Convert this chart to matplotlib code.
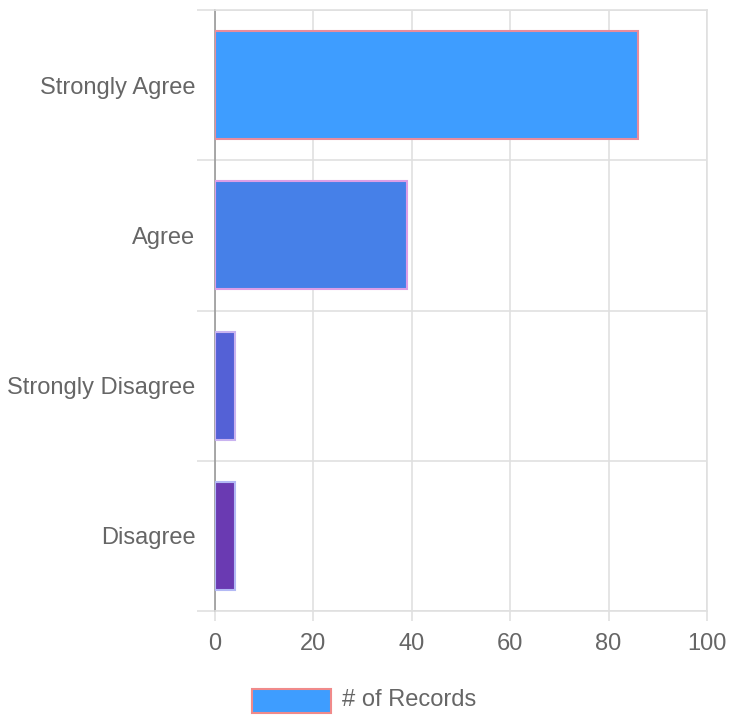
import matplotlib.pyplot as plt
import matplotlib

matplotlib.rcParams['font.family'] = ['Liberation Sans', 'DejaVu Sans']

# data
categories = ['Strongly Agree', 'Agree', 'Strongly Disagree', 'Disagree']
records = [86, 39, 4, 4]
bar_colors = ['#3e9dff', '#4680e8', '#5461d6', '#6a3ab2']
edge_colors = ['#ea8c9c', '#dc9ee6', '#c9b3f0', '#b3b9f5']
x_ticks = [0, 20, 40, 60, 80, 100]

grid_c = '#e0e0e0'
text_c = '#666666'

fig = plt.figure(figsize=(7.29, 7.15), dpi=100)
ax = fig.add_axes([215 / 729, (715 - 611) / 715, (707 - 215) / 729, (611 - 10) / 715])

ypos = list(range(len(categories)))
for i in ypos:
    ax.barh(i, records[i], height=0.72, color=bar_colors[i],
            edgecolor=edge_colors[i], linewidth=1.5, zorder=3)

ax.set_xlim(0, 100)
ax.set_ylim(len(categories) - 0.5, -0.5)
ax.set_xticks(x_ticks)
ax.set_yticks(ypos)
ax.set_yticklabels(categories)
ax.set_yticks([i - 0.5 for i in range(len(categories) + 1)], minor=True)

ax.tick_params(axis='y', which='major', length=0, pad=14, labelsize=17, labelcolor=text_c)
ax.tick_params(axis='y', which='minor', length=13, width=1.2, color=grid_c)
ax.tick_params(axis='x', which='major', length=7, width=1.2, color=grid_c,
               pad=9, labelsize=17, labelcolor=text_c)

ax.grid(True, axis='x', which='major', color=grid_c, linewidth=1.2, zorder=0)
ax.grid(True, axis='y', which='minor', color=grid_c, linewidth=1.2, zorder=0)
ax.set_axisbelow(True)

for s in ['top', 'right', 'bottom']:
    ax.spines[s].set_color(grid_c)
    ax.spines[s].set_linewidth(1.2)
ax.spines['left'].set_color('#9a9a9a')
ax.spines['left'].set_linewidth(1.2)

# legend
leg_ax = fig.add_axes([0, 0, 1, 1], facecolor='none')
leg_ax.set_xlim(0, 729)
leg_ax.set_ylim(715, 0)
leg_ax.axis('off')
leg_ax.add_patch(plt.Rectangle((252, 689), 79, 24, facecolor=bar_colors[0],
                               edgecolor='#f08a8a', linewidth=1.5))
leg_ax.text(342, 700, '# of Records', fontsize=17, color=text_c, va='center', ha='left')

fig.savefig('out.png', dpi=100)
